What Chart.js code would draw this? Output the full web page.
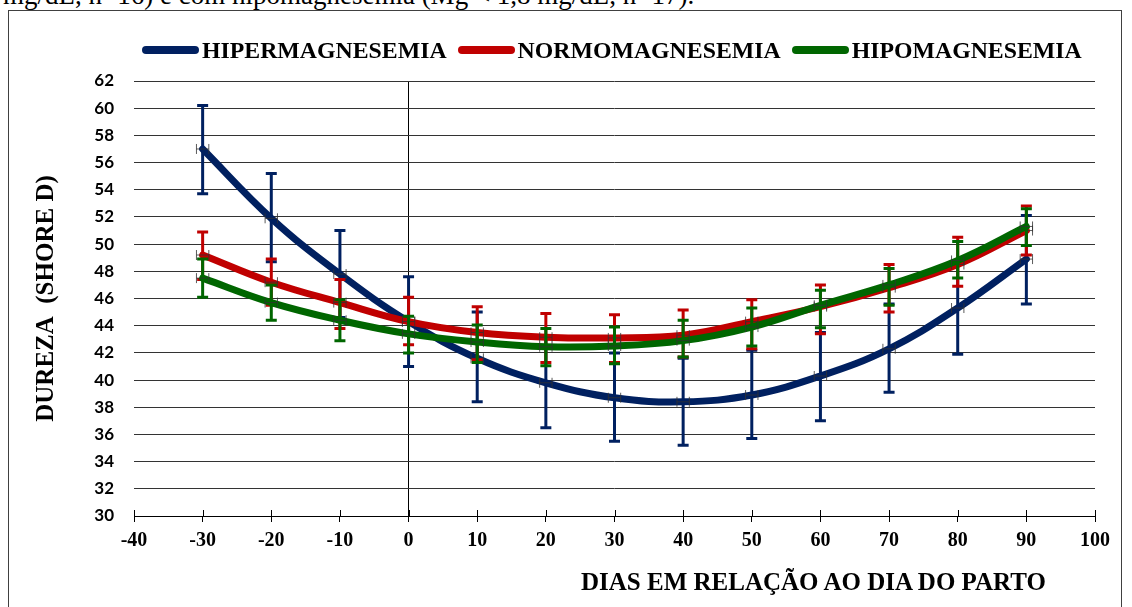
<!DOCTYPE html>
<html>
<head>
<meta charset="utf-8">
<script src="https://cdn.jsdelivr.net/npm/chart.js@4.4.0/dist/chart.umd.min.js"></script>
<style>
  html, body { margin: 0; padding: 0; background: #fff; overflow: hidden; width: 1132px; height: 607px; }
  #caption { position: absolute; left: 3px; top: -18px; font: 27px/27px "Liberation Serif", serif; white-space: nowrap; color: #000; }
  #frame { position: absolute; left: 8px; top: 10px; width: 1112px; height: 700px; border: 1px solid #404040; }
  #chart { position: absolute; left: 0; top: 0; }
  #legend { position: absolute; left: 142px; top: 37px; display: flex; align-items: center; font: bold 23.8px/26px "Liberation Serif", serif; color: #000; }
  #legend .item { display: flex; align-items: center; margin-right: 11px; }
  #legend .swatch { width: 57px; height: 8px; border-radius: 4px; margin-right: 3px; }
  #xtitle { position: absolute; left: 581px; top: 568px; font: bold 25px/28px "Liberation Serif", serif; color: #000; white-space: nowrap; }
</style>
</head>
<body>
<div id="caption">mg/dL, n=16) e com hipomagnesemia (Mg &lt; 1,8 mg/dL, n=17).</div>
<div id="frame"></div>
<canvas id="chart" width="1132" height="607"></canvas>
<div id="legend"></div>
<div id="xtitle">DIAS EM RELAÇÃO AO DIA DO PARTO</div>
<script>
// days relative to calving
const days = [-30, -20, -10, 0, 10, 20, 30, 40, 50, 60, 70, 80, 90];

// hardness (Shore D): mean, upper and lower end of the error bar
const hiperMean  = [57.0, 51.9, 47.8, 44.3, 41.6, 39.8, 38.7, 38.4, 38.9, 40.3, 42.3, 45.3, 48.9];
const hiperUpper = [60.2, 55.2, 51.0, 47.6, 45.0, 43.1, 42.0, 41.6, 42.2, 43.5, 45.6, 48.6, 52.1];
const hiperLower = [53.7, 48.7, 44.6, 41.0, 38.4, 36.5, 35.5, 35.2, 35.7, 37.0, 39.1, 41.9, 45.6];

const normoMean  = [49.2, 47.2, 45.7, 44.3, 43.5, 43.15, 43.1, 43.3, 44.3, 45.4, 46.8, 48.5, 51.0];
const normoUpper = [50.9, 48.9, 47.4, 46.1, 45.4, 44.9, 44.8, 45.15, 45.9, 47.0, 48.5, 50.5, 52.8];
const normoLower = [47.4, 45.5, 43.8, 42.6, 41.5, 41.3, 41.3, 41.7, 42.3, 43.4, 45.0, 46.9, 49.2];

const hipoMean  = [47.5, 45.7, 44.4, 43.4, 42.8, 42.45, 42.5, 42.9, 43.9, 45.5, 47.0, 48.8, 51.3];
const hipoUpper = [48.9, 47.0, 45.9, 44.7, 44.05, 43.8, 43.9, 44.4, 45.3, 46.6, 48.2, 50.2, 52.6];
const hipoLower = [46.1, 44.4, 42.9, 42.0, 41.3, 41.05, 41.2, 41.7, 42.5, 43.85, 45.5, 47.5, 49.9];

// horizontal error (days) shown as the small black marks
const xError = 0.9;

const seriesNames = ['HIPERMAGNESEMIA', 'NORMOMAGNESEMIA', 'HIPOMAGNESEMIA'];
const seriesColors = ['#002060', '#C00000', '#006600'];

const xMin = -40, xMax = 100, xStep = 10;
const yMin = 30, yMax = 62, yStep = 2;

function points(mean) {
    return days.map((d, i) => ({ x: d, y: mean[i] }));
}

// vertical error bars go under each series line, the small x marks on top
const errorBars = {
    id: 'errorBars',
    beforeDatasetDraw(chart, args) {
        const ds = chart.data.datasets[args.index];
        const ctx = chart.ctx;
        const xs = chart.scales.x, ys = chart.scales.y;
        ctx.save();
        ctx.strokeStyle = ds.borderColor;
        ctx.lineWidth = 3;
        ds.data.forEach((p, i) => {
            const px = xs.getPixelForValue(p.x);
            const top = ys.getPixelForValue(ds.upper[i]);
            const bot = ys.getPixelForValue(ds.lower[i]);
            ctx.beginPath();
            ctx.moveTo(px, top);
            ctx.lineTo(px, bot);
            ctx.moveTo(px - 5.5, top);
            ctx.lineTo(px + 5.5, top);
            ctx.moveTo(px - 5.5, bot);
            ctx.lineTo(px + 5.5, bot);
            ctx.stroke();
        });
        ctx.restore();
    },
    afterDatasetDraw(chart, args) {
        const ds = chart.data.datasets[args.index];
        const ctx = chart.ctx;
        const xs = chart.scales.x, ys = chart.scales.y;
        ctx.save();
        ctx.strokeStyle = 'rgba(50,50,50,0.8)';
        ctx.lineWidth = 1;
        ds.data.forEach(p => {
            const l = xs.getPixelForValue(p.x - xError);
            const r = xs.getPixelForValue(p.x + xError);
            const py = ys.getPixelForValue(p.y);
            ctx.beginPath();
            ctx.moveTo(l, py);
            ctx.lineTo(r, py);
            ctx.moveTo(l, py - 5);
            ctx.lineTo(l, py + 5);
            ctx.moveTo(r, py - 5);
            ctx.lineTo(r, py + 5);
            ctx.stroke();
        });
        ctx.restore();
    },
    // x axis tick marks cross the axis line, draw the part above it
    afterDraw(chart) {
        const ctx = chart.ctx;
        const xs = chart.scales.x;
        ctx.save();
        ctx.strokeStyle = '#000';
        ctx.lineWidth = 1;
        xs.ticks.forEach(t => {
            const px = Math.round(xs.getPixelForValue(t.value)) + 0.5;
            ctx.beginPath();
            ctx.moveTo(px, xs.top - 6);
            ctx.lineTo(px, xs.top);
            ctx.stroke();
        });
        ctx.restore();
    }
};

const means = [hiperMean, normoMean, hipoMean];
const uppers = [hiperUpper, normoUpper, hipoUpper];
const lowers = [hiperLower, normoLower, hipoLower];

const datasets = seriesNames.map((name, i) => ({
    label: name,
    data: points(means[i]),
    upper: uppers[i],
    lower: lowers[i],
    borderColor: seriesColors[i],
    backgroundColor: seriesColors[i],
    borderWidth: 7,
    borderCapStyle: 'round',
    pointRadius: 0,
    tension: 0.4,
    order: 3 - i
}));

// legend as html
const legendEl = document.getElementById('legend');
seriesNames.forEach((name, i) => {
    const item = document.createElement('div');
    item.className = 'item';
    item.innerHTML = `<span class="swatch" style="background:${seriesColors[i]}"></span><span>${name}</span>`;
    legendEl.appendChild(item);
});

new Chart(document.getElementById('chart'), {
    type: 'line',
    data: { datasets: datasets },
    options: {
        responsive: false,
        animation: false,
        layout: { padding: { left: 10, right: 37, top: 81, bottom: 0 } },
        plugins: {
            legend: { display: false },
            tooltip: { enabled: false }
        },
        scales: {
            x: {
                type: 'linear',
                min: xMin,
                max: xMax,
                ticks: {
                    stepSize: xStep,
                    color: '#000',
                    padding: 7,
                    maxRotation: 0,
                    font: { family: 'Liberation Serif', size: 20, weight: 'bold' }
                },
                grid: {
                    color: ctx => (ctx.tick && ctx.tick.value === 0) ? '#000' : 'rgba(0,0,0,0)',
                    tickColor: '#000',
                    tickLength: 6,
                    lineWidth: 1
                },
                border: { color: '#000', width: 1 },
                afterFit: s => { s.height = 91; }
            },
            y: {
                min: yMin,
                max: yMax,
                ticks: {
                    stepSize: yStep,
                    color: '#000',
                    padding: 20,
                    font: { family: 'Lato', size: 17, weight: 'bold' }
                },
                grid: { color: '#333', drawTicks: false },
                border: { display: false },
                title: {
                    display: true,
                    text: 'DUREZA  (SHORE D)',
                    color: '#000',
                    font: { family: 'Liberation Serif', size: 25, weight: 'bold' },
                    padding: { top: 22, bottom: 0 }
                },
                afterFit: s => { s.width = 124; }
            }
        }
    },
    plugins: [errorBars]
});
</script>
</body>
</html>
